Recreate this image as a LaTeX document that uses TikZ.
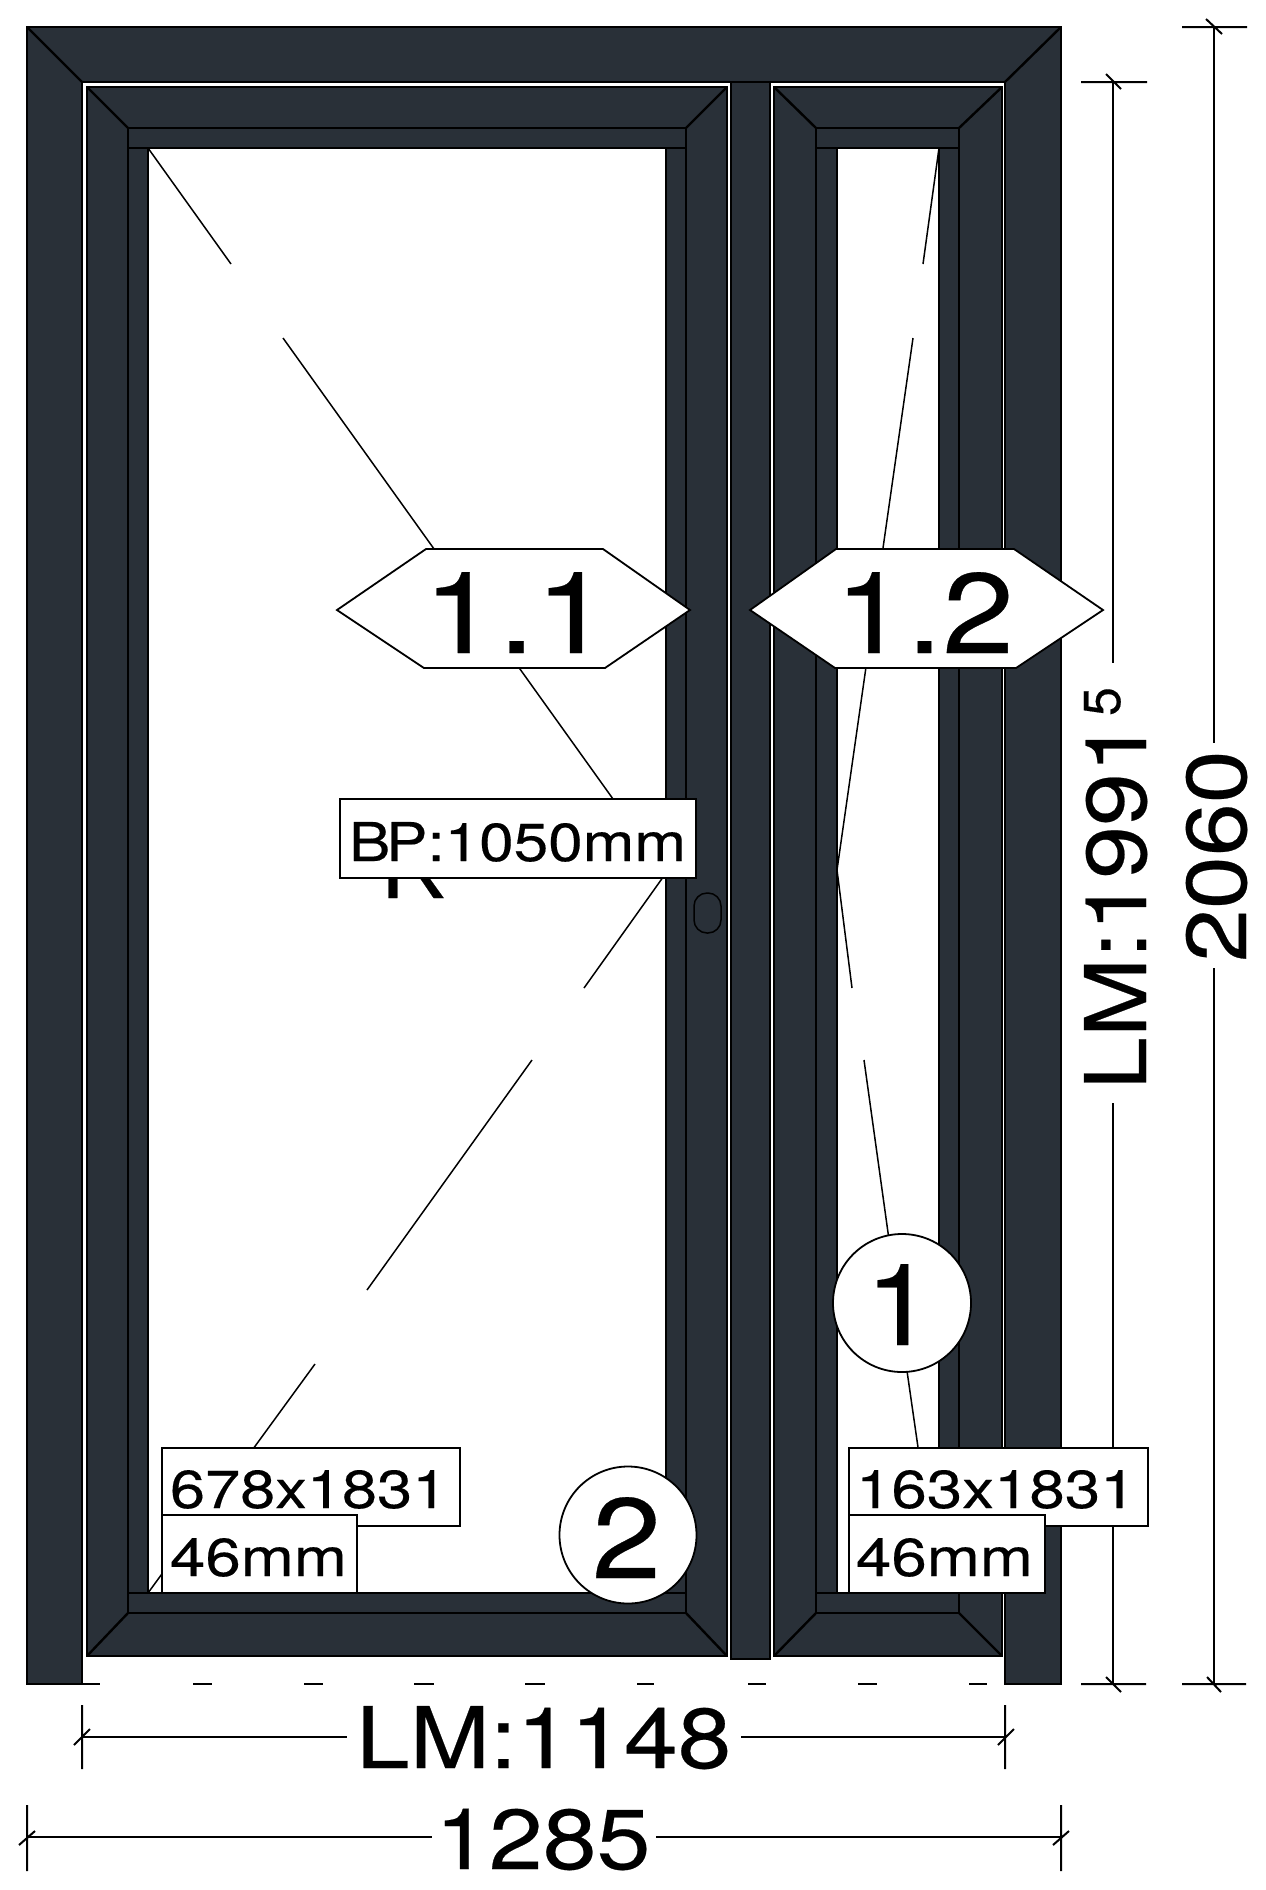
\documentclass[tikz,border=0pt]{standalone}
\usepackage{fontspec}
\usepackage{graphicx}
\setmainfont{TeX Gyre Heros}[FakeBold=0.25]
\newfontfamily\arialish{Liberation Sans}[FakeBold=0.25]
\definecolor{frameblue}{HTML}{293038}
\newcommand{\sx}[2]{\scalebox{#1}[1]{#2}}
\tikzset{
  part/.style={fill=frameblue,draw=black,line width=2.4pt,line join=miter},
  seam/.style={draw=black,line width=2.4pt},
  pane/.style={fill=white,draw=black,line width=2.4pt},
  glassline/.style={draw=black,line width=1.5pt},
  dimline/.style={draw=black,line width=2pt},
  tag/.style={draw=black,line width=2.4pt,fill=white,rectangle,inner sep=0pt},
  bubble/.style={draw=black,line width=1.8pt,fill=white},
  txt/.style={anchor=base west,inner sep=0pt,outer sep=0pt},
  small/.style={txt,font=\fontsize{53.5}{60}\selectfont},
  big/.style={txt,font=\fontsize{85}{90}\selectfont},
  huge/.style={txt,font=\fontsize{114}{120}\selectfont}
}
\begin{document}
\begin{tikzpicture}[x=1pt,y=-1pt]
\useasboundingbox (0,0) rectangle (1266,1890);
% outer frame
\draw[part] (27,27) -- (1061,27) -- (1061,1684) -- (1005,1684) -- (1005,82) -- (82,82) -- (82,1684) -- (27,1684) -- cycle;
\draw[seam] (27,27) -- (82,82) (1061,27) -- (1005,82);
% mullion
\draw[part] (731,82) rectangle (770,1659);
% left sash
\draw[part] (87,87) rectangle (727,1656);
\draw[seam] (128,128) rectangle (686,1613);
\draw[seam] (87,87) -- (128,128) (727,87) -- (686,128) (87,1656) -- (128,1613) (727,1656) -- (686,1613);
\draw[pane] (148,148) rectangle (666,1593);
\draw[seam] (128,148) -- (686,148) (128,1593) -- (686,1593);
% right sash
\draw[part] (774,87) rectangle (1002,1656);
\draw[seam] (816,128) rectangle (959,1613);
\draw[seam] (774,87) -- (816,128) (1002,87) -- (959,128) (774,1656) -- (816,1613) (1002,1656) -- (959,1613);
\draw[pane] (837,148) rectangle (939,1593);
\draw[seam] (816,148) -- (959,148) (816,1593) -- (959,1593);
% handle
\draw[black,line width=1.5pt,rounded corners=13pt] (694,893) rectangle (721,933);
% glazing marks, left
\draw[glassline] (148,148) -- (231,264) (283,338) -- (666,873) -- (584,988) (532,1060) -- (367,1290) (315,1364) -- (148,1593);
% glazing marks, right
\draw[glassline] (939,148) -- (923,264) (913,338) -- (837,870) -- (852,988) (864,1060) -- (896,1290) (906,1364) -- (939,1593);
% base line
\draw[seam] (82,1684)--(100,1684) (193,1684)--(212,1684) (304,1684)--(323,1684) (414,1684)--(434,1684) (525,1684)--(545,1684) (637,1684)--(654,1684) (748,1684)--(766,1684) (858,1684)--(877,1684) (969,1684)--(987,1684);
% vertical dimensions
\draw[dimline] (1081,82) -- (1147,82) (1106,74) -- (1121,89);
\draw[dimline] (1113,82) -- (1113,663) (1113,1103) -- (1113,1684);
\draw[dimline] (1081,1684) -- (1146,1684) (1106,1677) -- (1121,1692);
\draw[dimline] (1182,27) -- (1247,27) (1206,19) -- (1222,34);
\draw[dimline] (1214,27) -- (1214,743) (1214,968) -- (1214,1684);
\draw[dimline] (1182,1684) -- (1246,1684) (1207,1677) -- (1221,1692);
% horizontal dimensions
\draw[dimline] (82,1705) -- (82,1769) (74,1745) -- (90,1729);
\draw[dimline] (82,1737) -- (347,1737) (741,1737) -- (1005,1737);
\draw[dimline] (1005,1705) -- (1005,1769) (998,1745) -- (1014,1729);
\draw[dimline] (27,1805) -- (27,1871) (19,1845) -- (35,1831);
\draw[dimline] (27,1837) -- (432,1837) (656,1837) -- (1061,1837);
\draw[dimline] (1061,1805) -- (1061,1871) (1053,1845) -- (1069,1831);
% texts under the tags
\node[big] (r) at (381,898) {\sx{1.09}{\arialish R}};
% hexagons
\draw[bubble,line join=miter] (337,610) -- (426,549) -- (603,549) -- (690,610) -- (605,668) -- (424,668) -- cycle;
\draw[bubble,line join=miter] (750,610) -- (836,549) -- (1014,549) -- (1103,610) -- (1016,668) -- (835,668) -- cycle;
\node[huge] (h1) at (423,653) {\sx{1.18}{1.1}};
\node[huge] (h2) at (835,653) {\sx{1.13}{1.2}};
% tags
\node[tag,minimum width=356pt,minimum height=79pt] (bpbox) at (518,838.5) {};
\node[small] (bp) at (349,861) {\sx{1.16}{B\kern-0.07em P:1050mm}};
\node[tag,minimum width=298pt,minimum height=78pt] (g1box) at (311,1487) {};
\node[small] (g1) at (170,1508) {\sx{1.18}{678x1831}};
\node[tag,minimum width=195pt,minimum height=78pt] (t1box) at (259.5,1554) {};
\node[small] (t1) at (170,1576) {\sx{1.19}{46mm}};
\node[tag,minimum width=299pt,minimum height=78pt] (g2box) at (998.5,1487) {};
\node[small] (g2) at (856,1508) {\sx{1.19}{163x1831}};
\node[tag,minimum width=196pt,minimum height=78pt] (t2box) at (947,1554) {};
\node[small] (t2) at (856,1576) {\sx{1.19}{46mm}};
% circles
\node[bubble,circle,minimum size=137pt,inner sep=0pt] (c2) at (628,1535) {};
\node[huge] (n2) at (592,1578) {\sx{1.09}{2}};
\node[bubble,circle,minimum size=138pt,inner sep=0pt] (c1) at (902,1303) {};
\node[huge] (n1) at (865,1345) {\sx{1.09}{1}};
% dimension texts
\node[big] (d1) at (356,1768) {\sx{1.135}{LM:1148}};
\node[big] (d2) at (435,1869) {\sx{1.14}{1285}};
\node[big,rotate=90] (d3) at (1146,1090) {\sx{1.118}{LM:1991}};
\node[txt,rotate=90,font=\fontsize{52}{56}\selectfont] (d3b) at (1120,716) {5};
\node[big,rotate=90] (d4) at (1246,962) {\sx{1.12}{2060}};
\end{tikzpicture}
\end{document}
